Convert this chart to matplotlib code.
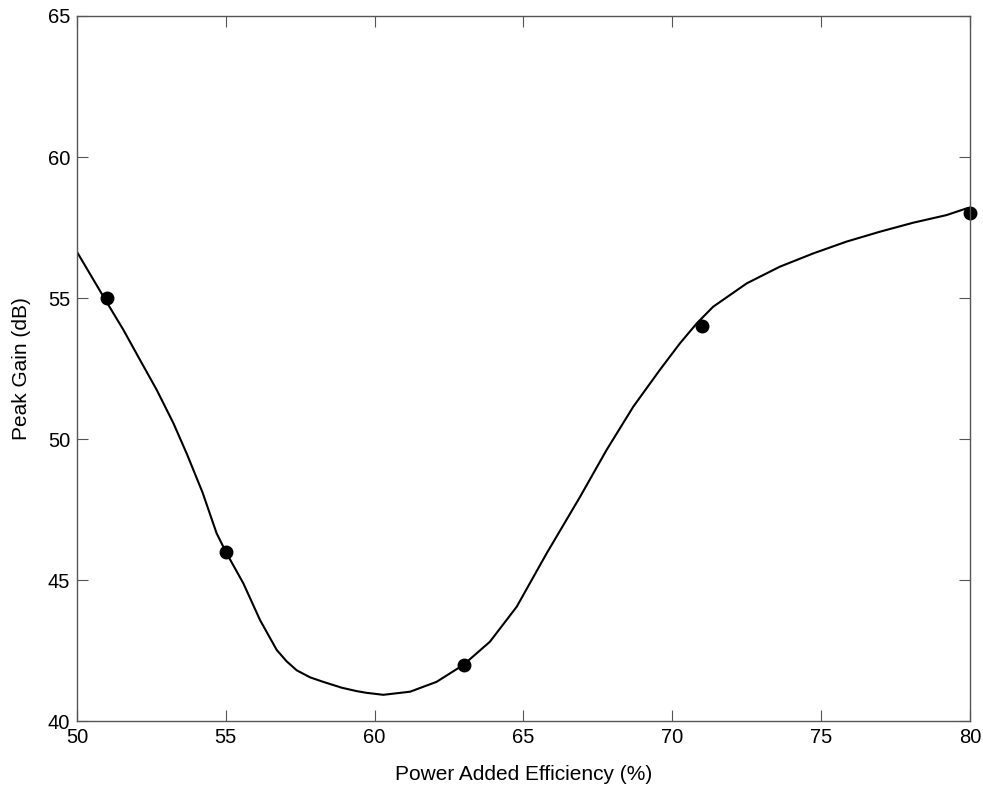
import numpy as np
import matplotlib
matplotlib.use('Agg')
import matplotlib.pyplot as plt

plt.rcParams['font.family'] = ['Liberation Sans', 'DejaVu Sans']

# measured points
pae = [51, 55, 63, 71, 80]
gain = [55, 46, 42, 54, 58]

# fitted curve
fit_x = [49.93, 51.0, 51.56, 52.12, 52.68, 53.24, 53.7, 54.22, 54.69, 55.0,
         55.59, 56.15, 56.71, 57.04, 57.38, 57.83, 58.27, 58.9, 59.4, 59.73,
         60.29, 61.19, 62.08, 62.98, 63.87, 64.77, 65.78, 66.9, 67.79, 68.69,
         69.58, 70.26, 70.82, 71.37, 72.5, 73.61, 74.73, 75.85, 76.97, 78.09,
         79.21, 79.89, 80.0]
fit_y = [56.76, 54.85, 53.87, 52.8, 51.74, 50.56, 49.45, 48.1, 46.66, 46.0,
         44.88, 43.58, 42.52, 42.12, 41.8, 41.55, 41.39, 41.18, 41.06, 41.0,
         40.93, 41.04, 41.39, 41.99, 42.81, 44.05, 45.95, 47.95, 49.61, 51.15,
         52.45, 53.4, 54.1, 54.69, 55.52, 56.11, 56.58, 57.0, 57.35, 57.67,
         57.94, 58.18, 58.2]

fig = plt.figure(figsize=(9.83, 7.92), dpi=100)
ax = fig.add_axes([0.0783, 0.0896, 0.9085, 0.8902])

ax.plot(fit_x, fit_y, color='black', linewidth=1.5, solid_joinstyle='round')
ax.plot(pae, gain, 'o', color='black', markersize=9, clip_on=False)

ax.set_xlim(50, 80)
ax.set_ylim(40, 65)
ax.set_xticks(np.arange(50, 81, 5))
ax.set_yticks(np.arange(40, 66, 5))
ax.tick_params(direction='in', length=8, width=0.8, top=True, right=True,
               labelsize=14.5, colors='#555555', labelcolor='black', pad=5)
for s in ax.spines.values():
    s.set_color('#555555')
    s.set_linewidth(1.0)

ax.set_xlabel("Power Added Efficiency (%)", fontsize=15, labelpad=13)
ax.set_ylabel("Peak Gain (dB)", fontsize=15, labelpad=12)

plt.savefig("out.png", dpi=100)
